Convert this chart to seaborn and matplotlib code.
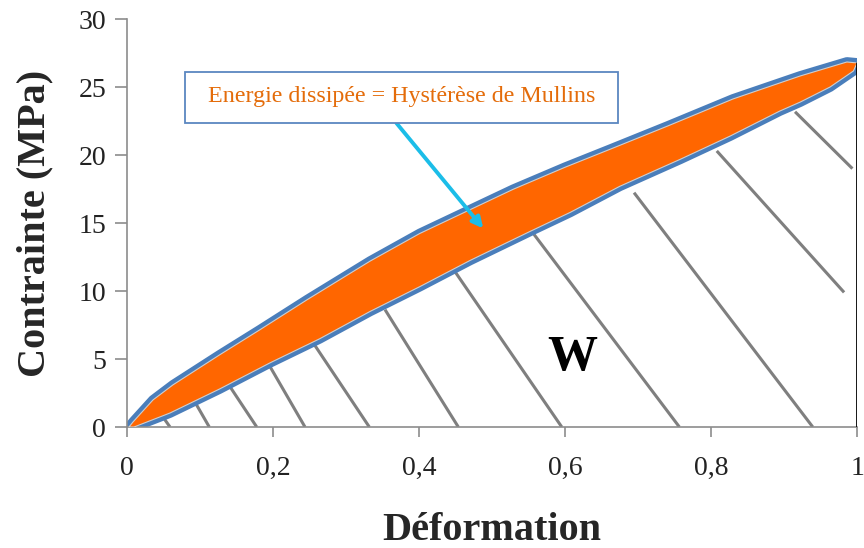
import numpy as np
import pandas as pd
import matplotlib
matplotlib.use("Agg")
import matplotlib.pyplot as plt
import seaborn as sns
from matplotlib.ticker import FixedLocator, FixedFormatter
from matplotlib.patches import Rectangle

# ---- data ----
load_x = [0.0027, 0.0082, 0.0356, 0.063, 0.127, 0.182, 0.247, 0.333, 0.401,
          0.529, 0.600, 0.662, 0.740, 0.830, 0.922, 0.986, 1.0]
load_y = [0.0, 0.37, 1.99, 3.10, 5.31, 7.15, 9.37, 12.20, 14.23,
          17.48, 19.10, 20.43, 22.12, 24.12, 25.81, 26.84, 26.77]
unload_x = [0.0096, 0.0589, 0.127, 0.196, 0.264, 0.333, 0.401, 0.470, 0.552, 0.607,
            0.675, 0.758, 0.826, 0.894, 0.922, 0.963, 0.995, 1.0]
unload_y = [0.0, 1.03, 2.80, 4.72, 6.49, 8.50, 10.32, 12.25, 14.38, 15.78,
            17.70, 19.69, 21.39, 23.23, 23.89, 25.0, 26.18, 26.77]

hatch_x0 = [0.0489, 0.0945, 0.141, 0.1945, 0.2552, 0.3534, 0.4479, 0.5575, 0.6945, 0.8078, 0.915]
hatch_y0 = [0.76, 1.70, 2.97, 4.57, 6.17, 8.63, 11.53, 14.16, 17.23, 20.30, 23.18]
hatch_x1 = [0.0589, 0.1127, 0.1777, 0.2438, 0.3319, 0.4538, 0.5955, 0.7566, 0.9393, 0.9822, 0.9936]
hatch_y1 = [0.0, 0.0, 0.0, 0.0, 0.0, 0.0, 0.0, 0.0, 0.0, 9.90, 19.0]

x_ticks = [0, 0.2, 0.4, 0.6, 0.8, 1.0]
x_tick_labels = ["0", "0,2", "0,4", "0,6", "0,8", "1"]
y_ticks = [0, 5, 10, 15, 20, 25, 30]
y_tick_labels = ["0", "5", "10", "15", "20", "25", "30"]

annotation_text = "Energie dissipée = Hystérèse de Mullins"
w_label = "W"
x_label = "Déformation"
y_label = "Contrainte (MPa)"

# ---- style ----
sns.set_theme(style="white")
plt.rcParams['font.family'] = ['Liberation Serif', 'DejaVu Serif']

fig = plt.figure(figsize=(8.64, 5.48), dpi=100)
ax = fig.add_axes([0.147, 0.2208, 0.845, 0.7445])

blue = "#4A7EBB"
orange = "#FF6600"

df_load = pd.DataFrame({"x": load_x, "y": load_y})
df_unload = pd.DataFrame({"x": unload_x, "y": unload_y})

# hatch lines
for x0, y0, x1, y1 in zip(hatch_x0, hatch_y0, hatch_x1, hatch_y1):
    ax.plot([x0, x1], [y0, y1], color="#7f7f7f", lw=2.2, zorder=1, solid_capstyle="butt")

for d in (df_load, df_unload):
    sns.lineplot(data=d, x="x", y="y", sort=False, estimator=None, ax=ax,
                 color=blue, lw=7, zorder=2, solid_joinstyle="round",
                 solid_capstyle="round")

poly_x = list(load_x) + list(unload_x[::-1])
poly_y = list(load_y) + list(unload_y[::-1])
ax.fill(poly_x, poly_y, facecolor=orange, edgecolor="#cfcfcf", lw=0.8, zorder=3,
        joinstyle="round")

# vertical black line at max deformation
ax.plot([load_x[-1], load_x[-1]], [0, load_y[-1]], color="black", lw=2, zorder=4)

# axes
ax.set_xlim(0, 1)
ax.set_ylim(0, 30)
ax.xaxis.set_major_locator(FixedLocator(x_ticks))
ax.xaxis.set_major_formatter(FixedFormatter(x_tick_labels))
ax.yaxis.set_major_locator(FixedLocator(y_ticks))
ax.yaxis.set_major_formatter(FixedFormatter(y_tick_labels))
for s in ["top", "right"]:
    ax.spines[s].set_visible(False)
for s in ["left", "bottom"]:
    ax.spines[s].set_color("#8c8c8c")
    ax.spines[s].set_linewidth(1.2)
ax.tick_params(axis="y", direction="out", length=9, width=1.2, color="#8c8c8c",
               labelsize=20, labelcolor="#222222", pad=6, left=True)
ax.tick_params(axis="x", direction="out", length=7, width=1.2, color="#8c8c8c",
               labelsize=20, labelcolor="#222222", pad=14, bottom=True)
ax.set_xlabel(x_label, fontsize=29, fontweight="bold", labelpad=22)
ax.set_ylabel(y_label, fontsize=29, fontweight="bold", labelpad=18)
ax.grid(False)

# annotation box and arrow
ax.annotate("", xy=(0.488, 14.6), xytext=(0.369, 22.35),
            arrowprops=dict(arrowstyle="-|>", color="#1BBDE8", lw=2.8,
                            mutation_scale=16, shrinkA=0, shrinkB=0), zorder=5)
box_x0, box_x1, box_y0, box_y1 = 0.0795, 0.6726, 22.35, 26.1
ax.add_patch(Rectangle((box_x0, box_y0), box_x1 - box_x0, box_y1 - box_y0,
                       facecolor="white", edgecolor="#5B87C0", lw=1.3, zorder=6))
ax.text((box_x0 + box_x1) / 2, (box_y0 + box_y1) / 2 + 0.05, annotation_text,
        ha="center", va="center", fontsize=17.3, color="#E46C0A", zorder=7)

ax.text(0.61, 5.1, w_label, ha="center", va="center", fontsize=36,
        fontweight="bold", color="black", zorder=5)

fig.savefig("out.png", dpi=100)
